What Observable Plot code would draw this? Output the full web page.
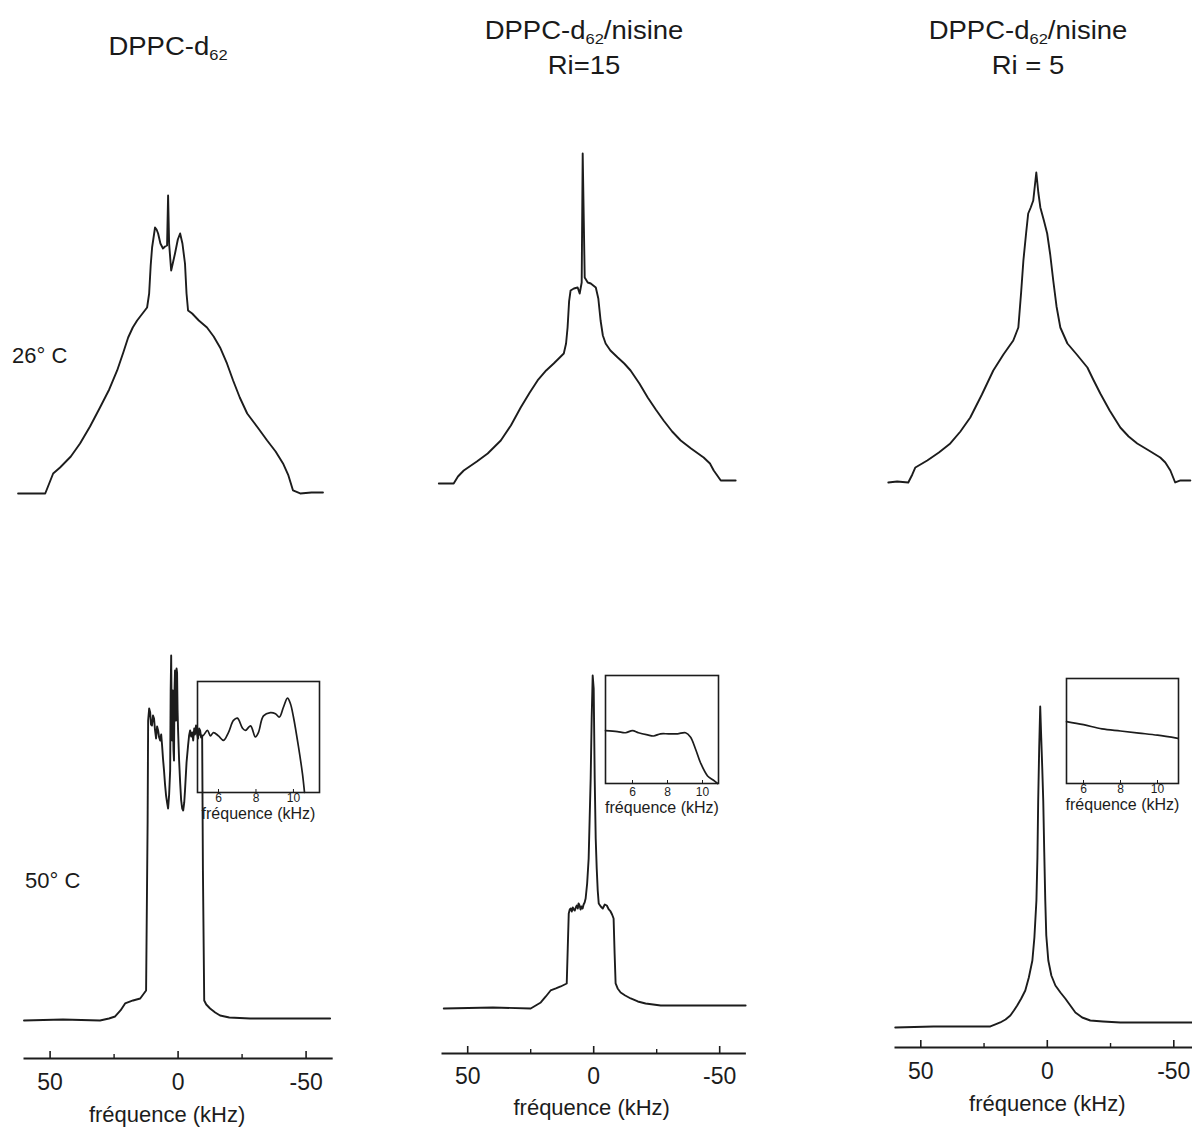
<!DOCTYPE html>
<html><head><meta charset="utf-8">
<script src="https://cdn.jsdelivr.net/npm/d3@7"></script>
<script src="https://cdn.jsdelivr.net/npm/@observablehq/plot@0.6"></script>
<style>
html,body{margin:0;padding:0;background:#fff;overflow:hidden;}
#fig{position:relative;width:1192px;height:1133px;font-family:"Liberation Sans",Arial,Helvetica,sans-serif;color:#1a1a1a;background:#fff;}
.title{position:absolute;width:320px;font-size:25px;line-height:25px;text-align:center;white-space:nowrap;transform:scaleX(1.1);transform-origin:50% 0;}
.title sub{font-size:15px;vertical-align:-5px;line-height:0;}
.temp{position:absolute;font-size:22px;line-height:22px;white-space:nowrap;}
#fig svg{position:absolute;overflow:visible;}
</style></head><body><div id="fig"></div>
<script>
// ---------- text ----------
const titleMain = ["DPPC-d", "DPPC-d", "DPPC-d"];
const titleSub = ["62", "62", "62"];
const titleTail = ["", "/nisine", "/nisine"];
const titleLine2 = ["", "Ri=15", "Ri = 5"];
const temperatures = ["26° C", "50° C"];
const axisLabel = "fréquence (kHz)";
const majorTicks = [50, 0, -50];
const minorTicks = [25, -25];
const insetTicks = [6, 8, 10];

// ---------- spectra: [frequency kHz, intensity a.u.] ----------
const spec26_DPPC = [[58.6,0],[48,0],[44.9,20],[42.2,26],[38,37],[34.4,50],[30.5,67],[26.6,86],[23,104],[19.9,123],[17.5,141],[15.6,156],[13.8,166],[12.1,173],[10,180],[8.2,186],[7.4,200],[6.8,228],[6.25,246],[5.1,266],[4.5,264],[3.9,260],[3,250],[2.0,245],[1.2,247],[0.4,248],[0,298],[-0.4,250],[-1.2,223],[-2,232],[-2.7,240],[-3.8,254],[-4.7,260],[-5.6,250],[-6.6,230],[-7.2,200],[-7.8,183],[-9.4,180],[-12,173],[-15.2,166],[-17.8,157],[-20.3,146],[-23,130],[-25.4,113],[-28,96],[-30.9,80],[-35,66],[-38.7,53],[-42,42],[-44.9,30],[-47,18],[-48.8,3],[-51.6,0],[-56,1],[-60.5,1]];
const spec26_Ri15 = [[57.1,0],[51.2,0],[49.5,7],[47.2,13],[42,22],[37.7,30],[32.5,43],[28.5,58],[24.6,76],[21,91],[17.9,103],[14.5,113],[11.5,120],[9.5,125],[7.5,130],[6.6,140],[6.0,156],[5.4,182],[4.8,193],[3.5,195],[2.0,196],[1.2,190],[0.4,201],[0,330],[-0.8,206],[-2,201],[-3.2,200],[-5.2,196],[-6.2,185],[-7.1,163],[-8,148],[-9.1,140],[-11,133],[-13.9,126],[-16.5,120],[-19.0,113],[-22.5,100],[-25.8,86],[-29,74],[-32.1,63],[-35.5,52],[-38.9,43],[-43,35],[-48.0,26],[-50.5,20],[-52.0,13],[-54.8,3],[-57.5,3],[-60.7,3]];
const spec26_Ri5 = [[58.5,0],[55,1],[50.6,0],[49,8],[47.8,15],[43.1,22],[38.5,30],[34.0,39],[30,51],[26.1,65],[21.5,88],[17.0,112],[13,128],[9.1,142],[7.1,155],[6,190],[5.1,222],[4,250],[3.2,269],[2.2,275],[1.2,282],[0,310],[-0.8,290],[-1.6,275],[-3,262],[-4.3,249],[-5.5,228],[-6.7,202],[-8,176],[-9.5,155],[-12.3,139],[-16,128],[-20.2,115],[-22.5,103],[-25.3,89],[-29,72],[-33.2,55],[-36.5,46],[-39.9,39],[-44.5,32],[-49.0,25],[-51,20],[-53.0,12],[-54.9,0],[-57,2],[-60.9,2]];

const spec50_DPPC = [[60.2,0],[45,1],[30.5,0],[27,2],[24.6,4],[22.5,10],[20.7,17],[17.6,20],[14.8,22],[12.5,30],[11.9,200],[11.7,300],[11.3,312],[10.9,308],[10.6,296],[10.2,295],[9.8,305],[9.4,302],[9.0,290],[8.6,282],[8.2,294],[7.8,290],[7.4,283],[7.0,280],[6.6,286],[6.25,275],[5.9,262],[5.5,250],[5.1,236],[4.7,225],[4.3,218],[3.9,212],[3.5,226],[3.1,250],[2.9,330],[2.7,365],[2.5,300],[2.3,280],[2.1,330],[2.0,300],[1.8,270],[1.6,260],[1.4,330],[1.2,350],[1.0,300],[0.8,300],[0.6,352],[0.4,348],[0.2,310],[0,290],[-0.4,260],[-0.8,238],[-1.2,220],[-1.6,212],[-2.0,210],[-2.4,218],[-2.7,230],[-3.3,258],[-3.9,275],[-4.3,285],[-4.7,290],[-5.1,284],[-5.5,288],[-5.9,280],[-6.3,292],[-6.6,286],[-7.0,295],[-7.4,287],[-7.8,282],[-8.2,292],[-8.6,290],[-9.0,283],[-9.4,285],[-9.7,150],[-10.2,20],[-11,16],[-12.5,12],[-14.5,8],[-16.4,5],[-20,3],[-28.1,2],[-40,2],[-59.4,2]];
const spec50_Ri15 = [[59.5,0],[40,1],[25.0,0],[23,3],[21.0,6],[19,12],[17.1,18],[15,20],[13.1,22],[11.5,24],[10.7,25],[10.3,60],[9.9,95],[9.5,99],[9.1,100],[8.7,97],[8.3,101],[7.9,99],[7.5,98],[7.1,101],[6.7,103],[6.3,100],[6.0,105],[5.6,103],[5.2,99],[4.8,102],[4.4,100],[4.0,104],[3.6,106],[3.2,110],[2.6,125],[2.0,150],[1.6,190],[1.2,230],[0.8,290],[0.4,333],[0,320],[-0.4,230],[-0.8,170],[-1.2,140],[-1.6,118],[-2.0,105],[-2.8,102],[-3.6,100],[-4.4,104],[-5.2,103],[-6.0,99],[-6.7,97],[-7.3,94],[-7.9,90],[-8.3,55],[-8.7,25],[-9.5,20],[-10.7,16],[-12.5,13],[-14.7,10],[-17.5,7],[-20.6,5],[-26.6,3],[-40,3],[-60.3,3]];
const spec50_Ri5 = [[60.1,0],[45,1],[30,1],[22.5,1],[20.5,3],[18.6,5],[16.5,8],[14.6,12],[13.2,17],[11.9,22],[10.3,29],[8.7,37],[7.3,50],[5.9,67],[5.1,90],[4.3,127],[3.9,170],[3.6,227],[3.2,280],[2.8,321],[2.4,290],[2.0,260],[1.6,227],[1.2,175],[0.8,127],[0.4,92],[-0.4,67],[-1.6,52],[-3.2,42],[-5.2,35],[-7.1,29],[-9.1,22],[-11.1,15],[-13.8,10],[-17.0,7],[-22,6],[-28.9,5],[-40,5],[-57.3,5]];

// ---------- insets: [frequency kHz, intensity % of box] ----------
const inset50_DPPC = [[4.88,54],[5.15,51],[5.41,56],[5.57,51],[5.73,54],[6.0,51],[6.27,47],[6.53,54],[6.8,65],[7.01,67],[7.28,58],[7.44,56],[7.71,60],[7.97,50],[8.13,54],[8.4,69],[8.77,72],[9.04,71],[9.25,68],[9.47,77],[9.68,85],[9.84,80],[10.0,68],[10.27,41],[10.48,17],[10.59,0]];
const inset50_Ri15 = [[4.46,49],[5.14,48],[5.6,47],[6.0,49],[6.34,47],[6.86,45],[7.2,44],[7.6,46],[8.06,46],[8.57,46],[9.03,47],[9.31,43],[9.6,32],[9.89,19],[10.29,7],[10.63,3],[10.86,0]];
const inset50_Ri5 = [[5.08,59],[6.0,56],[7.0,52],[8.0,50],[9.0,48],[10.0,46],[11.1,43]];

// ---------- layout ----------
const fig = document.getElementById("fig");
const FONT = '"Liberation Sans", Arial, Helvetica, sans-serif';
const INK = "#1c1c1c";

function place(svg, left, top) {
  svg.style.left = left + "px";
  svg.style.top = top + "px";
  fig.appendChild(svg);
}

function spectrum(data, L) {
  const hasAxis = L.axisY != null;
  const innerB = hasAxis ? L.axisY : L.B;
  const innerH = innerB - L.T;
  const w = L.xr - L.xl;
  const marks = [
    Plot.line(data, {x: d => d[0], y: d => d[1], stroke: INK, strokeWidth: 1.9, strokeLinejoin: "round", curve: "linear"})
  ];
  if (hasAxis) {
    marks.push(
      Plot.frame({anchor: "bottom", stroke: INK, strokeWidth: 2}),
      Plot.tickX(majorTicks, {x: d => d, insetTop: innerH - 7, stroke: INK, strokeWidth: 1.6}),
      Plot.tickX(minorTicks, {x: d => d, insetTop: innerH - 4, stroke: INK, strokeWidth: 1.4}),
      Plot.axisX(majorTicks, {tickSize: 0, tickPadding: L.pad, fontSize: 23, tickFormat: d => String(d), label: null}),
      Plot.text([axisLabel], {text: d => d, frameAnchor: "bottom", dy: L.labDy, dx: L.labDx, fontSize: 22})
    );
  }
  const svg = Plot.plot({
    width: w, height: L.B - L.T,
    marginLeft: 0, marginRight: 0, marginTop: 0, marginBottom: L.B - innerB,
    x: {domain: [60, -60], axis: hasAxis ? undefined : null},
    y: {domain: [-(innerB - L.base), L.base - L.T], axis: null},
    style: {background: "transparent", overflow: "visible", fontFamily: FONT, color: INK},
    marks
  });
  place(svg, L.xl, L.T);
}

function inset(data, L) {
  const innerH = L.bottom - L.top;
  const svg = Plot.plot({
    width: L.xr - L.xl, height: innerH + 44,
    marginLeft: 0, marginRight: 0, marginTop: 0, marginBottom: 44,
    x: {domain: [L.d0, L.d1]},
    y: {domain: [0, 100], axis: null},
    style: {background: "transparent", overflow: "visible", fontFamily: FONT, color: INK},
    marks: [
      Plot.frame({stroke: INK, strokeWidth: 1.6}),
      Plot.line(data, {x: d => d[0], y: d => d[1], stroke: INK, strokeWidth: 1.7, curve: "catmull-rom"}),
      Plot.tickX(insetTicks, {x: d => d, insetTop: innerH - 3, stroke: INK, strokeWidth: 1}),
      Plot.axisX(insetTicks, {tickSize: 0, tickPadding: L.pad, fontSize: 12, tickFormat: d => String(d), label: null}),
      Plot.text([axisLabel], {text: d => d, frameAnchor: "bottom", dy: L.labDy, fontSize: 16})
    ]
  });
  place(svg, L.xl, L.top);
}

// top row (26 °C)
spectrum(spec26_DPPC, {xl: 14.4, xr: 321.6, T: 170, B: 510, base: 493});
spectrum(spec26_Ri15, {xl: 430.8, xr: 733.2, T: 140, B: 500, base: 483});
spectrum(spec26_Ri5, {xl: 884.2, xr: 1187.8, T: 160, B: 500, base: 482});
// bottom row (50 °C)
spectrum(spec50_DPPC, {xl: 24.4, xr: 331.6, T: 640, B: 1133, axisY: 1058, base: 1020, pad: 15, labDy: 64, labDx: -11});
spectrum(spec50_Ri15, {xl: 441.8, xr: 744.2, T: 640, B: 1133, axisY: 1053, base: 1008, pad: 14, labDy: 62, labDx: -2});
spectrum(spec50_Ri5, {xl: 895.2, xr: 1198.8, T: 640, B: 1133, axisY: 1047, base: 1027, pad: 15, labDy: 64, labDx: 0});
// insets
inset(inset50_DPPC, {xl: 197, xr: 319, top: 681, bottom: 792, d0: 4.88, d1: 11.39, pad: 1, labDy: 26});
inset(inset50_Ri15, {xl: 605, xr: 718, top: 675, bottom: 783, d0: 4.457, d1: 10.914, pad: 4, labDy: 29});
inset(inset50_Ri5, {xl: 1066, xr: 1178, top: 678, bottom: 783, d0: 5.08, d1: 11.135, pad: 1, labDy: 26});

// titles
const titlePos = [{cx: 168, top: 34}, {cx: 584, top: 18}, {cx: 1028, top: 18}];
titleMain.forEach((m, i) => {
  const d = document.createElement("div");
  d.className = "title";
  d.style.left = (titlePos[i].cx - 160) + "px";
  d.style.top = titlePos[i].top + "px";
  const l1 = document.createElement("div");
  l1.append(m);
  const s = document.createElement("sub");
  s.textContent = titleSub[i];
  l1.append(s);
  l1.append(titleTail[i]);
  d.appendChild(l1);
  if (titleLine2[i]) {
    const l2 = document.createElement("div");
    l2.style.marginTop = "10px";
    l2.textContent = titleLine2[i];
    d.appendChild(l2);
  }
  fig.appendChild(d);
});

// temperature labels
const tempPos = [{left: 12, top: 345}, {left: 25, top: 870}];
temperatures.forEach((t, i) => {
  const d = document.createElement("div");
  d.className = "temp";
  d.style.left = tempPos[i].left + "px";
  d.style.top = tempPos[i].top + "px";
  d.textContent = t;
  fig.appendChild(d);
});
</script></body></html>
